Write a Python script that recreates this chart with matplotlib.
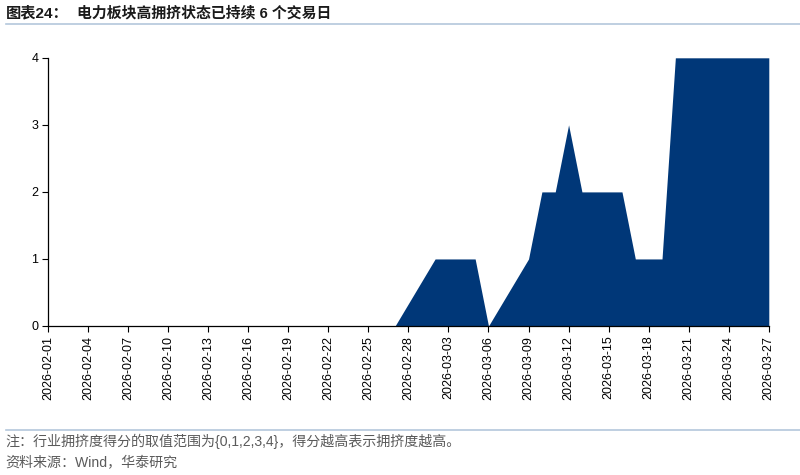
import matplotlib
matplotlib.use("Agg")
import matplotlib.dates as mdates
import matplotlib.pyplot as plt
import pandas as pd
from matplotlib.lines import Line2D

plt.rcParams["font.family"] = ["Liberation Sans", "Noto Sans CJK SC", "DejaVu Sans"]
plt.rcParams["axes.unicode_minus"] = False

# 交易日与拥挤度得分
dates = [
    "2026-02-02", "2026-02-03", "2026-02-04", "2026-02-05", "2026-02-06",
    "2026-02-09", "2026-02-10", "2026-02-11", "2026-02-12", "2026-02-13",
    "2026-02-24", "2026-02-25", "2026-02-26", "2026-02-27",
    "2026-03-02", "2026-03-03", "2026-03-04", "2026-03-05", "2026-03-06",
    "2026-03-09", "2026-03-10", "2026-03-11", "2026-03-12", "2026-03-13",
    "2026-03-16", "2026-03-17", "2026-03-18", "2026-03-19", "2026-03-20",
    "2026-03-23", "2026-03-24", "2026-03-25", "2026-03-26", "2026-03-27",
]
scores = [
    0, 0, 0, 0, 0,
    0, 0, 0, 0, 0,
    0, 0, 0, 0,
    1, 1, 1, 1, 0,
    1, 2, 2, 3, 2,
    2, 1, 1, 1, 4,
    4, 4, 4, 4, 4,
]
tick_dates = pd.date_range("2026-02-01", "2026-03-27", freq="3D")

title_tag = "图表24："
title = "电力板块高拥挤状态已持续 6 个交易日"
note = "注：行业拥挤度得分的取值范围为{0,1,2,3,4}，得分越高表示拥挤度越高。"
source = "资料来源：Wind，华泰研究"

x = pd.to_datetime(dates)

fig = plt.figure(figsize=(8, 4.75), dpi=100)
ax = fig.add_axes([0.06, 0.3137, 0.901, 0.5646])

ax.fill_between(x, scores, 0, color="#003778", linewidth=0)

ax.set_xlim(pd.Timestamp("2026-02-01"), pd.Timestamp("2026-03-27"))
ax.set_ylim(0, 4)
ax.set_yticks([0, 1, 2, 3, 4])
ax.set_xticks(tick_dates)
ax.xaxis.set_major_formatter(mdates.DateFormatter("%Y-%m-%d"))
plt.setp(ax.get_xticklabels(), rotation=90)
ax.tick_params(axis="both", labelsize=9, length=4, width=0.8, color="black", pad=3)

for side in ["top", "right"]:
    ax.spines[side].set_visible(False)
for side in ["left", "bottom"]:
    ax.spines[side].set_linewidth(0.9)
    ax.spines[side].set_color("black")

# 标题与分隔线
fig.text(0.007, 0.972, title_tag, fontsize=11, fontweight="bold", color="#1a1a1a",
         ha="left", va="center")
fig.text(0.096, 0.972, title, fontsize=10.7, fontweight="bold", color="#1a1a1a",
         ha="left", va="center")
fig.add_artist(Line2D([0.007, 1.0], [0.950, 0.950], color="#b4c7dc", linewidth=1.2))
fig.add_artist(Line2D([0.007, 1.0], [0.095, 0.095], color="#b4c7dc", linewidth=1.2))

fig.text(0.007, 0.071, note, fontsize=10.1, color="#5a5a5a", ha="left", va="center")
fig.text(0.007, 0.025, source, fontsize=10.1, color="#5a5a5a", ha="left", va="center")

fig.savefig("out.png", dpi=100)
